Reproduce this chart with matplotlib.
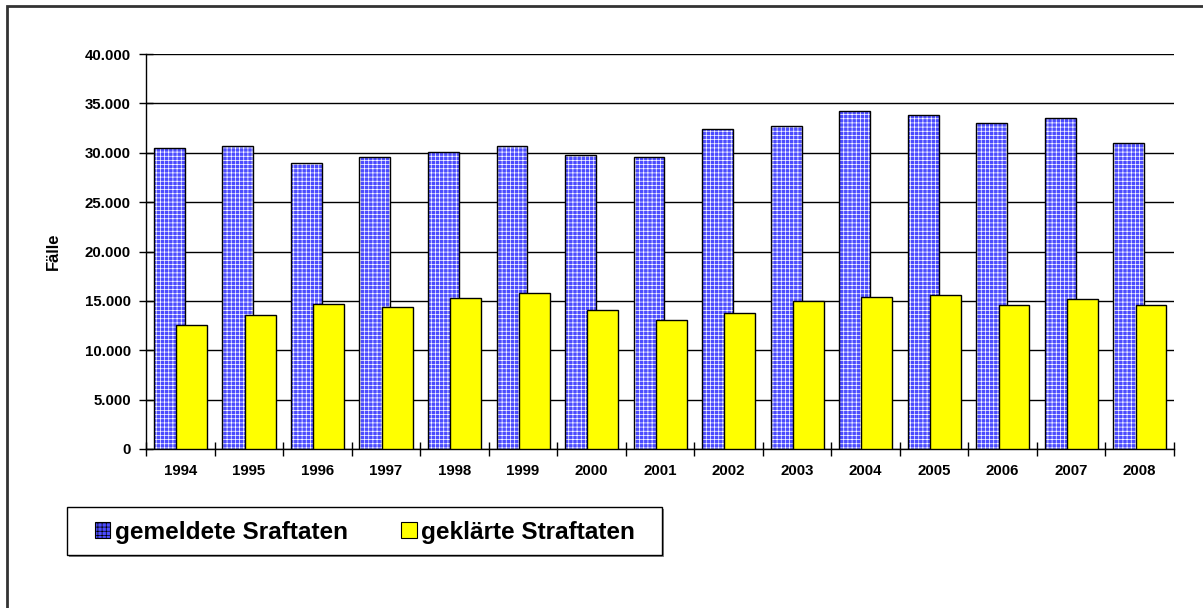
import numpy as np
import matplotlib
matplotlib.use("Agg")
import matplotlib.pyplot as plt
from matplotlib.patches import Patch, Rectangle
from matplotlib.ticker import FuncFormatter

plt.rcParams['font.family'] = ['Liberation Sans', 'DejaVu Sans']
plt.rcParams['font.weight'] = 'bold'
plt.rcParams['hatch.linewidth'] = 0.5

years = ['1994', '1995', '1996', '1997', '1998', '1999', '2000', '2001',
         '2002', '2003', '2004', '2005', '2006', '2007', '2008']
gemeldet = [30500, 30650, 28930, 29540, 30080, 30720, 29770, 29540,
            32370, 32670, 34230, 33860, 32980, 33550, 31020]
geklaert = [12590, 13600, 14720, 14410, 15260, 15800, 14110, 13030,
            13800, 14950, 15360, 15600, 14550, 15160, 14610]
legend_labels = ['gemeldete Sraftaten', 'geklärte Straftaten']

W, H = 1203, 608
fig = plt.figure(figsize=(W / 100, H / 100), dpi=100)
ax = fig.add_axes([146 / W, 1 - 449 / H, (1174 - 146) / W, (449 - 54) / H])

x = np.arange(len(years))
w = 0.45
blue = '#4c4cff'
yellow = '#ffff00'

# blue bars with a fine white hatch (dither look), black outline drawn separately
ax.bar(x - 0.16, gemeldet, w, color=blue, hatch='++++', edgecolor='white', linewidth=0, zorder=2)
ax.bar(x - 0.16, gemeldet, w, fill=False, edgecolor='black', linewidth=1, zorder=2)
ax.bar(x + 0.165, geklaert, w, color=yellow, edgecolor='black', linewidth=1, zorder=3)

ax.set_xlim(-0.5, len(years) - 0.5)
ax.set_ylim(0, 40000)
ax.set_yticks(np.arange(0, 40001, 5000))
ax.yaxis.set_major_formatter(FuncFormatter(lambda v, p: f'{int(v):,}'.replace(',', '.')))
ax.grid(axis='y', color='black', linewidth=1, zorder=0)
ax.set_axisbelow(True)

ax.set_xticks(x)
ax.set_xticklabels(years)
ax.set_xticks(np.arange(-0.5, len(years)), minor=True)
ax.tick_params(axis='x', which='major', length=0, pad=11, labelsize=10.8)
ax.tick_params(axis='x', which='minor', direction='inout', length=10, width=1)
ax.tick_params(axis='y', direction='inout', length=10, width=1, labelsize=10.8, pad=6)

for s in ['top', 'right']:
    ax.spines[s].set_visible(False)
for s in ['left', 'bottom']:
    ax.spines[s].set_linewidth(1)

ax.set_ylabel('Fälle', fontsize=12, fontweight='bold', labelpad=17)

# legend box (drawn by hand so the padding matches)
fig.patches.append(Rectangle((69, H - 557), 662 - 67, 555 - 507, transform=None,
                             facecolor='#888888', edgecolor='none', zorder=1))
fig.patches.append(Rectangle((67, H - 555), 662 - 67, 555 - 507, transform=None,
                             facecolor='white', edgecolor='black', linewidth=1, zorder=2))

handles = [Patch(facecolor=blue, edgecolor='black', hatch='++++', linewidth=0.8),
           Patch(facecolor=yellow, edgecolor='black', linewidth=0.8)]
leg = fig.legend(handles, legend_labels, loc='center',
                 bbox_to_anchor=(365 / W, 1 - 532 / H),
                 ncol=2, fontsize=17.6, frameon=False,
                 handlelength=0.62, handleheight=0.62, handletextpad=0.2,
                 columnspacing=2.2, borderpad=0)
leg.set_zorder(3)

# outer chart border
fig.patches.append(Rectangle((7, -100), 1400, H - 6 + 100, transform=None, fill=False,
                             edgecolor='#333333', linewidth=2))

fig.savefig('out.png', dpi=100)
